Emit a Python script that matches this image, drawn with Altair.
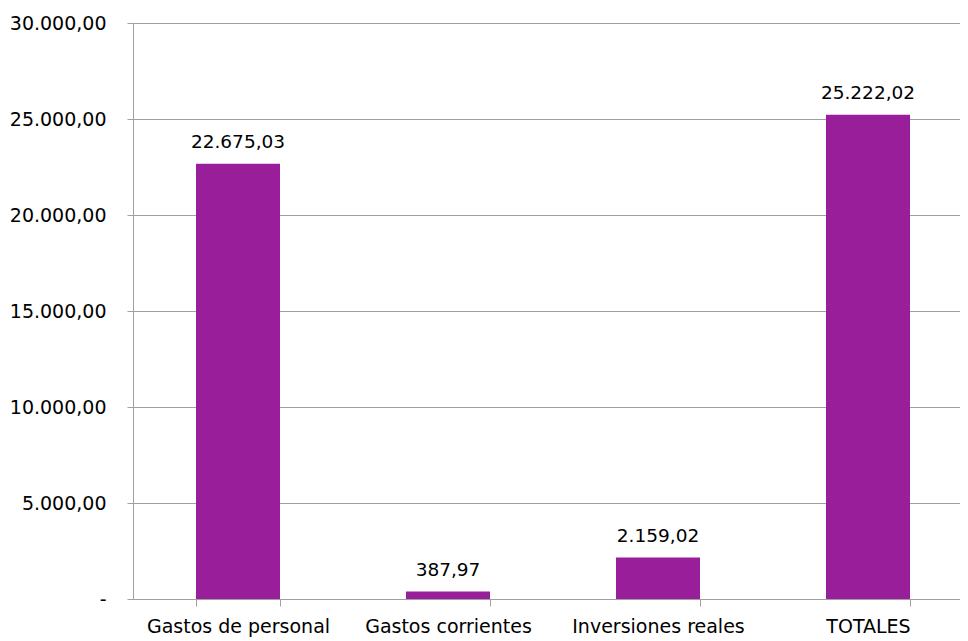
import altair as alt
import pandas as pd

categories = ["Gastos de personal", "Gastos corrientes", "Inversiones reales", "TOTALES"]
values = [22675.03, 387.97, 2159.02, 25222.02]

df = pd.DataFrame({"cat": categories, "val": values})

FONT = "DejaVu Sans"
COLOR = "#991E99"
GRAY = "#a0a0a0"

base = alt.Chart(df).encode(
    x=alt.X(
        "cat:N",
        sort=categories,
        title=None,
        scale=alt.Scale(paddingInner=0.6, paddingOuter=0.3, range=[0, 840]),
        axis=alt.Axis(
            labelAngle=0,
            tickBand="extent",
            tickSize=7,
            tickColor=GRAY,
            domainColor=GRAY,
            labelPadding=11,
            labelFontSize=19,
            labelFont=FONT,
            labelColor="#000000",
            labelLimit=0,
            grid=False,
        ),
    ),
    y=alt.Y(
        "val:Q",
        title=None,
        scale=alt.Scale(domain=[0, 30000], nice=False),
        axis=alt.Axis(
            values=[0, 5000, 10000, 15000, 20000, 25000, 30000],
            format=",.2f",
            labelExpr="datum.value == 0 ? '-' : datum.label",
            tickSize=6,
            tickColor=GRAY,
            domainColor=GRAY,
            gridColor=GRAY,
            labelPadding=21,
            labelFontSize=19,
            labelFont=FONT,
            labelColor="#000000",
        ),
    ),
)

bars = base.mark_bar(color=COLOR)
text = base.mark_text(
    baseline="alphabetic", dy=-16, fontSize=18.5, font=FONT, color="#000000"
).encode(text=alt.Text("val:Q", format=",.2f"))

chart = (
    (bars + text)
    .properties(
        width=827,
        height=576,
        autosize=alt.AutoSizeParams(type="none"),
        padding={"left": 125, "top": 15, "right": 0, "bottom": 40},
    )
    .configure(
        locale={
            "number": {
                "decimal": ",",
                "thousands": ".",
                "grouping": [3],
                "currency": ["", " €"],
            }
        }
    )
    .configure_view(stroke=None)
)

chart.save("out.html", embed_options={"renderer": "svg", "actions": False})
